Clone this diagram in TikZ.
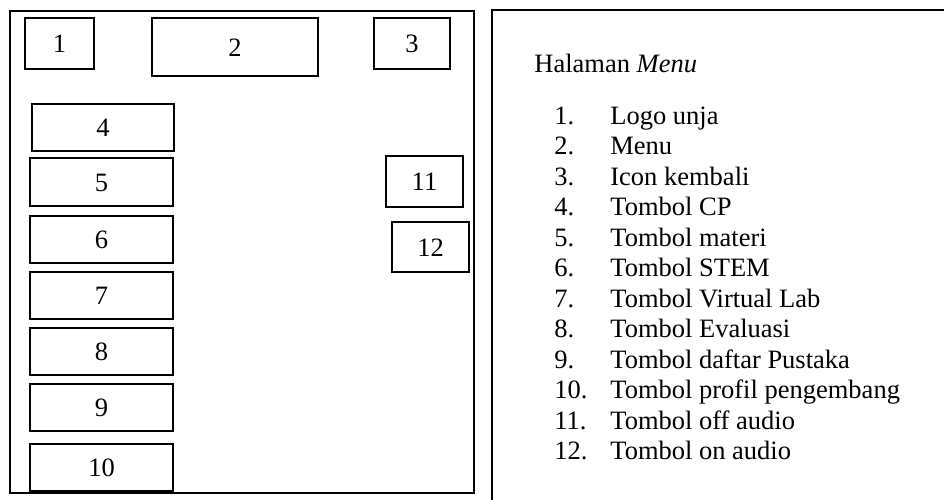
\documentclass[tikz,border=0pt]{standalone}
\usepackage{fontspec}
\setmainfont{Liberation Serif}

\begin{document}
\begin{tikzpicture}[x=0.5pt, y=-0.5pt, line width=1.4pt, font=\fontsize{13.25pt}{15.25pt}\selectfont, tombol/.style={draw, rectangle, inner sep=0pt, text height=0.9em, text depth=0pt}, kecil/.style={tombol, minimum width=34.5pt, minimum height=25.5pt}, panjang/.style={tombol, minimum width=71.5pt, minimum height=23.5pt}]
\useasboundingbox (0,0) rectangle (944,499);
\clip (0,0) rectangle (944,499);
\draw (10,11) rectangle (474,493);
\draw (492,520) -- (492,10) -- (960,10);
\node[kecil] (logo) at (59.5,43.5) {1};
\node[tombol, minimum width=83pt, minimum height=29pt] (menu) at (235,47) {2};
\node[kecil, minimum width=38pt] (kembali) at (412,43.5) {3};
\node[panjang, minimum width=71pt] (cp) at (103,127.5) {4};
\node[panjang, minimum height=24pt] (materi) at (101.5,182) {5};
\node[panjang] (stem) at (101.5,239.5) {6};
\node[panjang] (vlab) at (101.5,295.5) {7};
\node[panjang] (evaluasi) at (101.5,351.5) {8};
\node[panjang] (pustaka) at (101.5,407.5) {9};
\node[panjang] (profil) at (101.5,467.5) {10};
\node[kecil, minimum width=38.5pt] (off) at (424.5,181.5) {11};
\node[kecil, minimum width=38.5pt, minimum height=25pt] (on) at (430.5,247) {12};
\node[anchor=base west, inner sep=0pt] (judul) at (533,72) {Halaman \textit{Menu}};
\node[anchor=base west, inner sep=0pt] (daftar) at (553,124) {\begin{tabular}[t]{@{}p{28pt}@{}l@{}}
1. & Logo unja\\
2. & Menu\\
3. & Icon kembali\\
4. & Tombol CP\\
5. & Tombol materi\\
6. & Tombol STEM\\
7. & Tombol Virtual Lab\\
8. & Tombol Evaluasi\\
9. & Tombol daftar Pustaka\\
10. & Tombol profil pengembang\\
11. & Tombol off audio\\
12. & Tombol on audio
\end{tabular}};
\end{tikzpicture}
\end{document}
